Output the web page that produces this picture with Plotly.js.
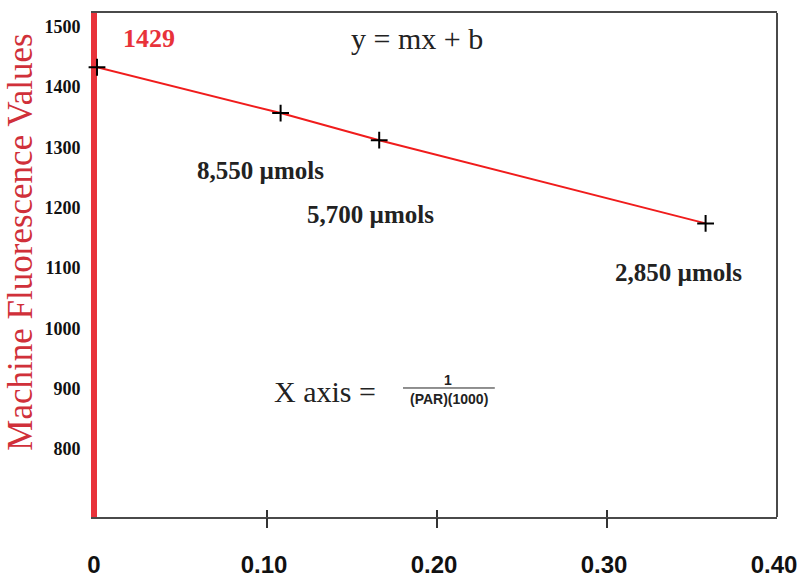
<!DOCTYPE html>
<html>
<head>
<meta charset="utf-8">
<script src="https://cdn.plot.ly/plotly-3.0.1.min.js"></script>
<style>html,body{margin:0;padding:0;background:#fff;}#chart{width:798px;height:580px;}</style>
</head>
<body>
<div id="chart"></div>
<script>
// Data
const xValues = [0, 0.108, 0.166, 0.358];
const yValues = [1433, 1357, 1312, 1174];
const pointLabels = ["8,550 \u00b5mols", "5,700 \u00b5mols", "2,850 \u00b5mols"];
const xTickVals = [0, 0.1, 0.2, 0.3, 0.4];
const xTickText = ["0", "0.10", "0.20", "0.30", "0.40"];
const xTickMarks = [0.1, 0.2, 0.3];
const yTickVals = [800, 900, 1000, 1100, 1200, 1300, 1400, 1500];
const interceptLabel = "1429";
const yTitle = "Machine Fluorescence Values";

const serif = "Liberation Serif, Times New Roman, serif";
const sans = "Liberation Sans, Arial, sans-serif";
const red = "#e8323a";

const trace = {
  x: xValues, y: yValues, type: "scatter", mode: "lines+markers",
  line: {color: "#f01c1c", width: 2},
  marker: {symbol: "cross-thin", size: 12, line: {color: "#000", width: 2}, color: "#000"},
  cliponaxis: false,
  hoverinfo: "x+y", showlegend: false
};

const annFont = {family: serif, size: 25, color: "#222", weight: "bold"};
const annotations = [
  {x: 0.0306, y: 1481, text: "<b>" + interceptLabel + "</b>", font: {family: serif, size: 26, color: red}},
  {x: 0.188, y: 1481, text: "y = mx + b", font: {family: serif, size: 30, color: "#222"}},
  {x: 0.0959, y: 1262, text: "<b>" + pointLabels[0] + "</b>", font: annFont},
  {x: 0.161, y: 1188, text: "<b>" + pointLabels[1] + "</b>", font: annFont},
  {x: 0.3418, y: 1092, text: "<b>" + pointLabels[2] + "</b>", font: annFont},
  {x: 0.134, y: 896, text: "X axis =", font: {family: serif, size: 30, color: "#222"}},
  {x: 0.2065, y: 915, text: "<b>1</b>", font: {family: sans, size: 14, color: "#222"}},
  {x: 0.207, y: 883, text: "<b>(PAR)(1000)</b>", font: {family: sans, size: 14, color: "#222"}}
].map(a => Object.assign({xref: "x", yref: "y", showarrow: false, xanchor: "center", yanchor: "middle"}, a));

annotations.push({
  xref: "paper", yref: "paper", x: -0.112, y: 0.546, showarrow: false,
  xanchor: "center", yanchor: "middle", textangle: -90,
  text: yTitle, font: {family: serif, size: 35, color: "#d0303a"}
});

const layout = {
  width: 798, height: 580,
  margin: {l: 97, r: 21, t: 13, b: 63},
  paper_bgcolor: "#fff", plot_bgcolor: "#fff",
  showlegend: false,
  xaxis: {
    range: [0, 0.4], tickvals: xTickVals, ticktext: xTickText, ticks: "",
    showgrid: false, zeroline: false, showline: true, mirror: true,
    linecolor: "#4a4a4a", linewidth: 2, ticklabelstandoff: 25, ticklabelshift: -3,
    tickfont: {family: sans, size: 24, color: "#111", weight: "bold"}
  },
  xaxis2: {
    range: [0, 0.4], overlaying: "x", anchor: "y", tickvals: xTickMarks,
    ticks: "outside", ticklen: 10, tickwidth: 1.5, tickcolor: "#333",
    showticklabels: false, showgrid: false, zeroline: false, showline: false
  },
  xaxis3: {
    range: [0, 0.4], overlaying: "x", anchor: "y", tickvals: xTickMarks,
    ticks: "inside", ticklen: 7, tickwidth: 1.5, tickcolor: "#333",
    showticklabels: false, showgrid: false, zeroline: false, showline: false
  },
  yaxis: {
    range: [687, 1523], tickvals: yTickVals, ticks: "",
    showgrid: false, zeroline: false, showline: true, layer: "below traces",
    linecolor: red, linewidth: 6, ticklabelstandoff: 7,
    tickfont: {family: serif, size: 18, color: "#111", weight: "bold"}
  },
  shapes: [
    {type: "line", xref: "paper", yref: "paper", x0: 1, x1: 1, y0: 0, y1: 1,
     line: {color: "#4a4a4a", width: 2}},
    {type: "line", xref: "x", yref: "y", x0: 0.18, x1: 0.234, y0: 901, y1: 901,
     line: {color: "#222", width: 1}}
  ],
  annotations: annotations
};

const traces = [
  trace,
  {x: [0.1], y: [null], xaxis: "x2", yaxis: "y", type: "scatter", mode: "markers", showlegend: false, hoverinfo: "skip"},
  {x: [0.1], y: [null], xaxis: "x3", yaxis: "y", type: "scatter", mode: "markers", showlegend: false, hoverinfo: "skip"}
];

Plotly.newPlot("chart", traces, layout, {displayModeBar: false, staticPlot: true});
</script>
</body>
</html>
